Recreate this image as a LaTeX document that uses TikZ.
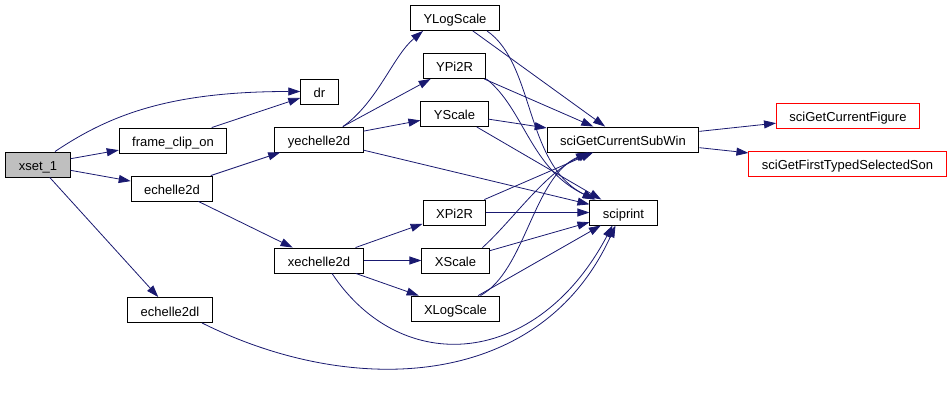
\documentclass[tikz,border=0pt]{standalone}
\usepackage{fontspec}
\setmainfont{Liberation Sans}
\usepackage{tikz}
\usepackage{xcolor}
\usetikzlibrary{arrows.meta}
\definecolor{cgBlue}{RGB}{25,25,112}
\definecolor{cgGray}{RGB}{191,191,191}
\definecolor{cgRed}{RGB}{255,0,0}

\begin{document}
\begin{tikzpicture}[
    x=1pt,y=-1pt,
    fn/.style={draw,line width=0.9pt,minimum height=25pt,inner xsep=13pt,inner ysep=0pt,
      text height=12pt,text depth=0pt,font=\fontsize{13}{15}\selectfont},
    fncur/.style={fn,fill=cgGray},
    fnext/.style={fn,draw=cgRed},
    arrow/.style={-{Triangle[length=12pt,width=8pt]},line width=0.8pt,cgBlue}
  ]
    \useasboundingbox (0,0) rectangle (951,401);
    \node[fncur] (xset) at (38,164.5) {xset\_1};
    \node[fn] (clip) at (173,140.5) {frame\_clip\_on};
    \node[fn] (dr) at (319.5,91.5) {dr};
    \node[fn] (ech) at (172,188.5) {echelle2d};
    \node[fn] (echl) at (170,310) {echelle2dl};
    \node[fn] (yech) at (319,139.5) {yechelle2d};
    \node[fn] (xech) at (319,260.5) {xechelle2d};
    \node[fn] (ylog) at (455,18) {YLogScale};
    \node[fn] (ypi) at (454.5,66) {YPi2R};
    \node[fn] (ysc) at (454.5,114) {YScale};
    \node[fn] (xpi) at (454.5,212.5) {XPi2R};
    \node[fn] (xsc) at (455.5,260.5) {XScale};
    \node[fn] (xlog) at (455.5,308.5) {XLogScale};
    \node[fn] (subwin) at (623,139.5) {sciGetCurrentSubWin};
    \node[fn] (print) at (623.5,212.5) {sciprint};
    \node[fnext] (fig) at (848,115.5) {sciGetCurrentFigure};
    \node[fnext] (son) at (847.5,163.5) {sciGetFirstTypedSelectedSon};
    % callers of xset_1
    \draw[arrow] ([xshift=17pt]xset.north) .. controls +(55,-37) and +(-130,0) .. (dr.west);
    \draw[arrow] (xset) -- (clip);
    \draw[arrow] (xset) -- (ech);
    \draw[arrow] (xset) -- (echl);
    \draw[arrow] (clip) -- (dr);
    \draw[arrow] (ech) -- (yech);
    \draw[arrow] (ech) -- (xech);
    \draw[arrow] ([xshift=32pt]echl.south) .. controls +(150,75) and +(-75,165) .. ([xshift=-8pt]print.south);
    % y axis
    \draw[arrow] ([xshift=24pt]yech.north) .. controls +(35,-25) and +(-30,25) .. ([xshift=-32pt]ylog.south);
    \draw[arrow] (yech) -- (ypi);
    \draw[arrow] (yech) -- (ysc);
    \draw[arrow] (yech) -- (print);
    % x axis
    \draw[arrow] (xech) -- (xpi);
    \draw[arrow] (xech) -- (xsc);
    \draw[arrow] (xech) -- (xlog);
    \draw[arrow] ([xshift=13pt]xech.south) .. controls +(70,105) and +(-75,142) .. ([xshift=-11pt]print.south);
    % scales
    \draw[arrow] (ylog) -- (subwin);
    \draw[arrow] ([xshift=32pt]ylog.south) .. controls +(48,33) and +(-70,-35) .. ([xshift=5pt]print.north west);
    \draw[arrow] (ypi) -- (subwin);
    \draw[arrow] (ypi.south east) .. controls +(38,30) and +(-65,-30) .. ([xshift=6pt]print.north west);
    \draw[arrow] (ysc) -- (subwin);
    \draw[arrow] (ysc) -- (print);
    \draw[arrow] (xpi) -- (subwin);
    \draw[arrow] (xpi) -- (print);
    \draw[arrow] ([xshift=27pt]xsc.north) .. controls +(30,-27) and +(-45,20) .. ([xshift=-33pt]subwin.south);
    \draw[arrow] (xsc) -- (print);
    \draw[arrow] ([xshift=25pt]xlog.north) .. controls +(45,-25) and +(-55,25) .. ([xshift=-35pt]subwin.south);
    \draw[arrow] (xlog) -- (print);
    \draw[arrow] (subwin) -- (fig);
    \draw[arrow] (subwin) -- (son);
  \end{tikzpicture}
\end{document}
